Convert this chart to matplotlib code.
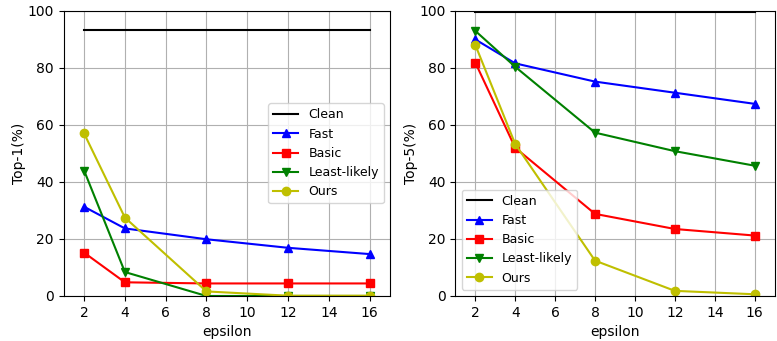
import numpy as np
import matplotlib
matplotlib.use('Agg')
import matplotlib.pyplot as plt

eps = [2, 4, 8, 12, 16]

# top-1 accuracy (%)
top1_clean = 93.3
top1_fast = [31.3, 23.7, 19.9, 16.9, 14.7]
top1_basic = [15.2, 4.8, 4.4, 4.4, 4.4]
top1_ll = [44.0, 8.4, 0.0, 0.0, 0.0]
top1_ours = [57.0, 27.5, 1.6, 0.1, 0.1]

# top-5 accuracy (%)
top5_clean = 99.7
top5_fast = [90.0, 81.6, 75.2, 71.3, 67.4]
top5_basic = [81.9, 52.0, 28.8, 23.5, 21.2]
top5_ll = [93.0, 80.4, 57.3, 50.8, 45.7]
top5_ours = [88.1, 53.3, 12.4, 1.8, 0.6]


def draw(ax, clean, fast, basic, ll, ours, ylabel, loc):
	ax.plot([eps[0], eps[-1]], [clean, clean], 'k', lw=1.5, label='Clean')
	ax.plot(eps, fast, 'b^-', ms=6, lw=1.5, label='Fast')
	ax.plot(eps, basic, 'rs-', ms=6, lw=1.5, label='Basic')
	ax.plot(eps, ll, 'gv-', ms=6, lw=1.5, label='Least-likely')
	ax.plot(eps, ours, 'o-', color='#bfbf00', ms=6, lw=1.5, label='Ours')
	ax.set_ylim(0, 100)
	ax.set_xlim(1, 17)
	ax.set_xticks(range(2, 17, 2))
	ax.grid(True, color='#b0b0b0', lw=0.8)
	ax.set_xlabel('epsilon', fontsize=10)
	ax.set_ylabel(ylabel, fontsize=10, labelpad=1)
	ax.tick_params(labelsize=10)
	ax.legend(loc=loc, fontsize=9)


fig = plt.figure(figsize=(7.77, 3.41), dpi=100)
ax1 = fig.add_axes([0.082, 0.132, 0.420, 0.836])
ax2 = fig.add_axes([0.586, 0.132, 0.411, 0.836])

draw(ax1, top1_clean, top1_fast, top1_basic, top1_ll, top1_ours, 'Top-1(%)', 'center right')
draw(ax2, top5_clean, top5_fast, top5_basic, top5_ll, top5_ours, 'Top-5(%)', 'lower left')

fig.savefig('out.png', dpi=100)
